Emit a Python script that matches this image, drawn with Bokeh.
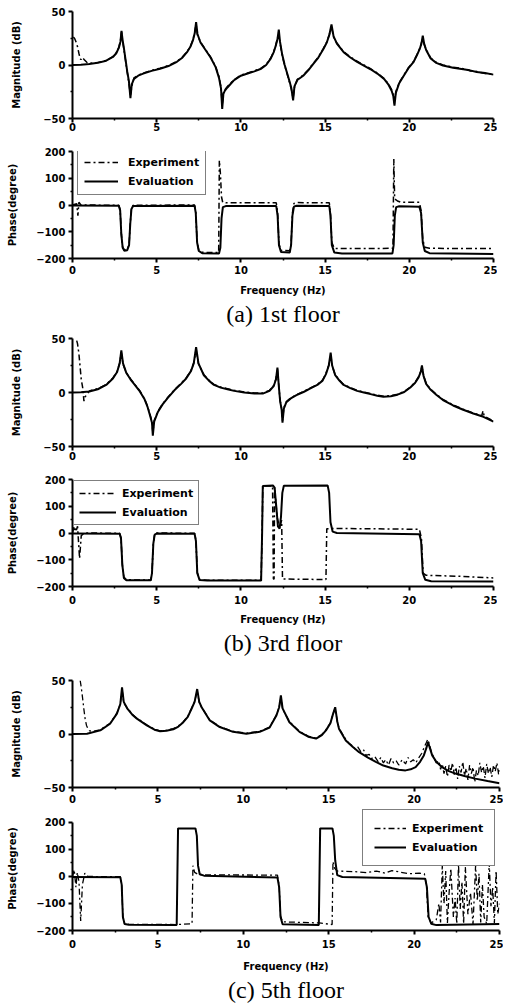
from bokeh.plotting import figure
from bokeh.layouts import column
from bokeh.models import Range1d, FixedTicker, Title, Legend, LegendItem
from bokeh.embed import file_html
from bokeh.resources import INLINE

# ---------------- data (frequency Hz, value) ----------------
freq_ticks = [0, 5, 10, 15, 20, 25]
freq_minor = [2.5, 7.5, 12.5, 17.5, 22.5]
mag_ticks = [-50, 0, 50]
mag_minor = [-25, 25]
phase_ticks = [-200, -100, 0, 100, 200]
phase_minor = [-150, -50, 50, 150]
series_labels = ["Experiment", "Evaluation"]
captions = ["(a) 1st floor", "(b) 3rd floor", "(c) 5th floor"]

a_mag_eval = [(0,0),(0.5,0.3),(1.0,1),(1.5,2),(2.0,4),(2.4,7.5),(2.6,11),(2.75,16),(2.85,22),(2.91,32),(2.97,24),(3.05,16),(3.15,5),(3.25,-6),(3.35,-15),(3.44,-31),(3.52,-18),(3.65,-13),(3.9,-10),(4.2,-8),(4.7,-5.5),(5.2,-3.5),(5.7,-1),(6.2,3),(6.5,6.5),(6.8,12),(7.0,17),(7.15,23),(7.26,30),(7.34,40),(7.42,29),(7.6,21),(7.9,14),(8.2,7),(8.5,-2),(8.7,-12),(8.82,-22),(8.89,-41),(8.96,-27),(9.05,-24),(9.2,-21),(9.57,-14.5),(10.0,-10),(10.4,-8),(10.8,-6),(11.2,-3.5),(11.5,0),(11.77,6),(11.95,12),(12.07,18),(12.17,24),(12.25,33),(12.32,22),(12.45,10),(12.6,0),(12.75,-8),(12.9,-16),(13.0,-22),(13.1,-33),(13.18,-20),(13.35,-14),(13.7,-10),(14.0,-5),(14.3,1),(14.6,7),(14.9,15),(15.1,21),(15.25,28),(15.38,38),(15.5,27),(15.7,20),(16.1,12),(16.5,7),(16.9,3),(17.3,-0.5),(17.7,-4),(18.1,-8),(18.5,-13),(18.75,-18),(18.95,-24),(19.05,-29),(19.12,-38),(19.2,-26),(19.4,-17),(19.67,-10),(19.95,-3),(20.26,3),(20.45,9),(20.62,15),(20.72,20),(20.8,27.5),(20.88,20),(21.0,14),(21.27,6),(21.6,2),(22.0,-0.5),(22.6,-2.5),(23.2,-4),(23.6,-5),(24.0,-6.5),(24.5,-7.5),(25.0,-9)]
a_mag_exp = [(0.05,26),(0.12,25),(0.2,22),(0.3,17),(0.38,11),(0.45,6),(0.5,5),(0.58,7),(0.7,5),(0.85,2.5),(1.0,1.5),(1.5,2.3),(2.0,4.2),(2.4,7.8),(2.6,11.5),(2.75,16.5),(2.85,23),(2.91,31),(2.97,23),(3.05,15),(3.15,4),(3.25,-7),(3.35,-17),(3.44,-29),(3.52,-20),(3.65,-12),(3.9,-9.5),(4.2,-7.5),(4.7,-5),(5.2,-3),(5.7,-0.5),(6.2,3.5),(6.5,7),(6.8,12.5),(7.0,17.5),(7.15,23.5),(7.26,31),(7.34,38),(7.42,28),(7.6,21.5),(7.9,14.5),(8.2,7.5),(8.5,-1.5),(8.7,-11),(8.82,-21),(8.89,-38),(8.96,-26),(9.05,-23),(9.2,-20),(9.57,-14),(10.0,-9.5),(10.4,-7.5),(10.8,-5.5),(11.2,-3),(11.5,0.5),(11.77,6.5),(11.95,12.5),(12.07,18.5),(12.17,25),(12.25,31),(12.32,21),(12.45,9),(12.6,-0.5),(12.75,-8.5),(12.9,-17),(13.0,-23),(13.1,-31),(13.18,-21),(13.35,-13.5),(13.7,-9.5),(14.0,-4.5),(14.3,1.5),(14.6,7.5),(14.9,15.5),(15.1,21.5),(15.25,28.5),(15.38,36),(15.5,26),(15.7,20.5),(16.1,12.5),(16.5,7.5),(16.9,3.5),(17.3,0),(17.7,-3.5),(18.1,-7.5),(18.5,-12.5),(18.75,-17.5),(18.95,-23),(19.05,-28),(19.12,-36),(19.2,-25),(19.4,-16.5),(19.67,-9.5),(19.95,-2.5),(20.26,3.5),(20.45,9.5),(20.62,15.5),(20.72,20.5),(20.8,26),(20.88,19.5),(21.0,14.5),(21.27,6.5),(21.6,2.5),(22.0,0),(22.6,-2),(23.2,-3.5),(23.6,-5.5),(24.0,-6),(24.5,-8),(25.0,-8.5)]
a_ph_eval = [(0,-2),(2.75,-3),(2.83,-20),(2.9,-110),(2.98,-160),(3.08,-171),(3.25,-169),(3.36,-150),(3.43,-70),(3.5,-15),(3.6,-4),(7.25,-3),(7.32,-30),(7.4,-140),(7.5,-172),(7.7,-180),(8.7,-181),(8.78,-160),(8.85,-50),(8.93,-8),(9.1,-4),(12.1,-4),(12.18,-40),(12.26,-150),(12.38,-176),(12.9,-178),(12.98,-150),(13.06,-40),(13.15,-6),(13.3,-3),(15.25,-4),(15.32,-40),(15.4,-150),(15.55,-178),(16.0,-181),(19.0,-181),(19.07,-150),(19.14,-40),(19.22,-8),(19.4,-5),(20.6,-7),(20.7,-30),(20.8,-140),(20.92,-172),(21.2,-180),(25.0,-183)]
a_ph_exp = [(0,0),(0.25,5),(0.32,-40),(0.38,10),(0.5,0),(2.75,-1),(2.83,-18),(2.9,-108),(2.98,-158),(3.08,-168),(3.25,-166),(3.36,-148),(3.43,-68),(3.5,-12),(3.6,-1),(7.25,0),(7.32,-28),(7.4,-138),(7.5,-170),(7.7,-177),(8.68,-178),(8.72,166),(8.78,120),(8.85,30),(8.92,10),(9.1,8),(12.1,8),(12.18,-30),(12.26,-145),(12.38,-170),(12.9,-171),(12.98,-145),(13.06,-30),(13.15,6),(13.3,9),(15.25,8),(15.32,-35),(15.4,-140),(15.55,-162),(16.0,-163),(19.03,-162),(19.08,172),(19.13,23),(19.3,15),(19.5,10),(20.6,10),(20.7,-20),(20.8,-130),(20.92,-158),(21.2,-162),(25.0,-163)]

b_mag_eval = [(0,0),(0.5,0.3),(1.0,1),(1.5,3),(2.0,7),(2.4,13),(2.65,19),(2.8,27),(2.9,39),(3.0,27),(3.2,18),(3.45,12),(3.7,7),(4.0,1),(4.27,-6),(4.45,-13),(4.6,-21),(4.72,-28),(4.77,-40),(4.85,-27),(5.07,-18),(5.35,-11),(5.66,-5),(6.05,2),(6.45,8),(6.75,13),(7.04,20),(7.2,27),(7.34,42),(7.48,27),(7.8,16),(8.1,11),(8.4,7),(8.8,4.5),(9.2,3),(9.6,1.5),(10.2,0),(10.8,-1),(11.3,-1),(11.7,1.5),(11.95,6),(12.08,12),(12.17,23),(12.25,6),(12.33,-8),(12.42,-16),(12.47,-28),(12.55,-15),(12.7,-9),(12.96,-5.5),(13.3,-2.5),(13.75,0.7),(14.1,3.5),(14.54,7),(14.85,11),(15.05,17),(15.22,25),(15.33,37),(15.42,25),(15.6,16),(15.85,11),(16.1,7),(16.5,4),(16.9,1.5),(17.3,0),(17.7,-1.5),(18.1,-3),(18.46,-4),(18.9,-3.5),(19.3,-2),(19.7,0.5),(20.06,4.6),(20.35,9),(20.55,14),(20.68,19),(20.75,25),(20.85,15),(21.0,8),(21.24,3),(21.6,-2),(22.0,-7),(22.6,-12),(23.2,-16),(23.8,-19.5),(24.4,-22.5),(25.0,-27)]
b_mag_exp = [(0.25,48),(0.3,45),(0.38,36),(0.45,24),(0.52,12),(0.6,5),(0.68,-8),(0.75,-4),(0.9,-1),(1.0,1.5),(1.5,3.5),(2.0,7.5),(2.4,13.5),(2.65,19.5),(2.8,27),(2.9,37),(3.0,26),(3.2,18.5),(3.45,12.5),(3.7,7.5),(4.0,1.5),(4.27,-5.5),(4.45,-12.5),(4.6,-20),(4.72,-27),(4.77,-37),(4.85,-26),(5.07,-17.5),(5.35,-10.5),(5.66,-4.5),(6.05,2.5),(6.45,8.5),(6.75,13.5),(7.04,20.5),(7.2,27.5),(7.34,40),(7.48,26.5),(7.8,16.5),(8.1,11.5),(8.4,7.5),(8.8,5),(9.2,3.5),(9.6,2),(10.2,0.5),(10.8,-0.5),(11.3,-0.5),(11.7,2),(11.95,6.5),(12.08,12.5),(12.17,22),(12.25,6.5),(12.33,-7.5),(12.42,-15),(12.47,-26),(12.55,-14),(12.7,-8.5),(12.96,-5),(13.3,-2),(13.75,1.2),(14.1,4),(14.54,7.5),(14.85,11.5),(15.05,17.5),(15.22,25.5),(15.33,35),(15.42,24.5),(15.6,16.5),(15.85,11.5),(16.1,7.5),(16.5,4.5),(16.9,2),(17.3,0.5),(17.7,-1),(18.1,-2.5),(18.46,-3.5),(18.9,-3),(19.3,-1.5),(19.7,1),(20.06,5),(20.35,9.5),(20.55,14.5),(20.68,19.5),(20.75,24),(20.85,15.5),(21.0,8.5),(21.24,3.5),(21.6,-1.5),(22.0,-6.5),(22.6,-11.5),(23.2,-15.5),(23.8,-19),(24.3,-21.5),(24.38,-17),(24.45,-22),(25.0,-26.5)]
b_ph_eval = [(0,-2),(2.8,-3),(2.88,-20),(2.96,-120),(3.05,-168),(3.2,-177),(4.65,-177),(4.72,-150),(4.8,-40),(4.88,-6),(5.0,-2),(7.25,-3),(7.33,-30),(7.41,-150),(7.55,-176),(8.0,-178),(11.2,-178),(11.26,0),(11.3,176),(11.9,178),(12.0,170),(12.1,100),(12.2,25),(12.3,16),(12.38,60),(12.46,150),(12.55,177),(15.15,178),(15.24,150),(15.32,40),(15.45,5),(15.7,0),(20.6,-5),(20.7,-30),(20.8,-150),(20.95,-175),(21.3,-180),(25.0,-181)]
b_ph_exp = [(0,0),(0.1,25),(0.2,5),(0.3,25),(0.42,-95),(0.52,-10),(0.7,0),(2.8,-1),(2.88,-18),(2.96,-118),(3.05,-165),(3.2,-175),(4.65,-176),(4.72,-148),(4.8,-38),(4.88,-4),(5.0,0),(7.25,-1),(7.33,-28),(7.41,-148),(7.55,-174),(8.0,-177),(11.2,-177),(11.26,0),(11.3,175),(11.88,176),(11.93,-172),(11.97,-172),(12.0,172),(12.15,60),(12.3,18),(12.42,48),(12.47,-172),(15.05,-174),(15.1,16),(15.5,17),(20.6,14),(20.72,-20),(20.82,-150),(21.0,-158),(22.0,-160),(23.0,-162),(24.0,-165),(25.0,-168)]

c_mag_eval = [(0,0),(0.85,0.3),(1.63,3.4),(2.2,9.6),(2.6,19),(2.8,28),(2.9,43.5),(3.0,30),(3.2,24),(3.5,18),(3.77,14.3),(4.35,8),(4.8,4),(5.13,2.5),(5.5,3),(5.9,4.4),(6.2,7),(6.49,11),(6.75,16),(6.97,23.6),(7.15,30),(7.3,42),(7.42,30),(7.56,25),(8.04,12.7),(8.62,6.5),(9.4,2),(10.18,0.3),(10.96,2),(11.54,6),(11.93,17),(12.1,25),(12.2,36),(12.3,24),(12.7,11),(13.29,2),(13.8,-2.5),(14.26,-4.3),(14.6,-1),(14.84,3.4),(15.1,10),(15.23,17.4),(15.38,25),(15.5,12),(15.6,5),(16.0,-6),(16.4,-12),(16.78,-17),(17.3,-22),(17.76,-26),(18.2,-29.5),(18.72,-32),(19.1,-33.5),(19.5,-34),(19.8,-33),(20.09,-31),(20.35,-26),(20.57,-20),(20.72,-13),(20.82,-7.5),(20.92,-13),(21.06,-20),(21.3,-26),(21.64,-31),(22.0,-34.5),(22.42,-37),(23.0,-39.5),(23.58,-41.7),(24.3,-44),(25.0,-46)]
c_mag_exp = [(0.45,50),(0.5,45),(0.58,35),(0.66,24),(0.74,14),(0.82,8),(0.9,5),(1.0,3),(1.2,2.5),(1.63,4),(2.2,10),(2.6,19.5),(2.8,28),(2.9,42),(3.0,29),(3.2,24.5),(3.5,18.5),(3.77,14.8),(4.35,8.5),(4.8,4.5),(5.13,3),(5.5,3.5),(5.9,5),(6.2,7.5),(6.49,11.5),(6.75,16.5),(6.97,24),(7.15,30.5),(7.3,40),(7.42,29.5),(7.56,25),(8.04,13),(8.62,7),(9.4,2.5),(10.18,0.8),(10.96,2.5),(11.54,6.5),(11.93,17.5),(12.1,25),(12.2,34),(12.3,23.5),(12.7,11.5),(13.29,2.5),(13.8,-2),(14.26,-3.8),(14.6,-0.5),(14.84,4),(15.1,10.5),(15.23,18),(15.38,24),(15.5,12),(15.6,5.5),(16.0,-5),(16.2,-9),(16.4,-11),(16.55,-14),(16.7,-12),(16.9,-17),(17.05,-15),(17.2,-20),(17.37,-19),(17.5,-23),(17.7,-21),(17.9,-26),(18.05,-22),(18.2,-27),(18.34,-24),(18.5,-29),(18.65,-23),(18.8,-27),(18.95,-25),(19.1,-29),(19.3,-24),(19.5,-28),(19.65,-22),(19.8,-26),(19.95,-24),(20.1,-27),(20.28,-22),(20.45,-18),(20.6,-12),(20.72,-8),(20.8,-5),(20.9,-10),(21.0,-16),(21.15,-22),(21.3,-27),(21.45,-25),(21.55,-33),(21.65,-28),(21.75,-37),(21.85,-30),(21.95,-40),(22.05,-29),(22.15,-35),(22.25,-27),(22.35,-38),(22.45,-31),(22.55,-42),(22.65,-30),(22.75,-36),(22.85,-26),(22.95,-39),(23.05,-32),(23.15,-43),(23.25,-29),(23.35,-37),(23.45,-31),(23.55,-45),(23.65,-34),(23.75,-39),(23.85,-27),(23.95,-36),(24.05,-30),(24.15,-41),(24.25,-28),(24.35,-37),(24.45,-31),(24.55,-40),(24.65,-29),(24.75,-35),(24.85,-27),(24.95,-38),(25.0,-33)]
c_ph_eval = [(0,-2),(2.8,-3),(2.88,-30),(2.95,-150),(3.05,-176),(3.3,-179),(6.1,-180),(6.14,0),(6.18,178),(7.2,178),(7.28,150),(7.35,40),(7.45,8),(7.7,3),(12.0,-4),(12.1,-40),(12.18,-150),(12.3,-177),(14.42,-180),(14.46,0),(14.5,178),(15.22,178),(15.3,150),(15.38,60),(15.5,5),(15.8,-2),(20.65,-8),(20.75,-40),(20.85,-150),(21.0,-175),(21.3,-180),(25.0,-176)]
c_ph_exp = [(0,0),(0.1,25),(0.2,-40),(0.28,15),(0.38,-20),(0.48,-165),(0.58,-30),(0.72,12),(0.9,0),(2.8,-1),(2.88,-28),(2.95,-148),(3.05,-174),(3.3,-177),(6.1,-178),(7.0,-175),(7.05,40),(7.15,15),(7.35,8),(7.7,6),(12.0,5),(12.1,-35),(12.18,-145),(12.3,-168),(14.45,-172),(15.2,-178),(15.25,55),(15.35,30),(15.5,20),(16.5,18),(17.2,14),(17.8,20),(18.3,12),(18.7,22),(19.2,16),(19.7,10),(20.3,12),(20.6,10),(20.72,-30),(20.82,-150),(21.0,-172),(21.3,-160),(21.45,-100),(21.55,-170),(21.65,40),(21.75,-100),(21.85,20),(21.95,-172),(22.05,-60),(22.15,30),(22.3,-150),(22.4,-80),(22.5,-175),(22.6,45),(22.7,-120),(22.8,-20),(22.9,-175),(23.0,35),(23.15,-140),(23.3,-60),(23.45,-176),(23.6,40),(23.7,-90),(23.8,10),(23.9,-170),(24.0,-30),(24.1,-150),(24.25,-175),(24.4,50),(24.5,-110),(24.6,-40),(24.7,-172),(24.8,20),(24.9,-140),(25.0,-100)]

# ---------------- styling helpers ----------------
FONT = "DejaVu Sans"
DASH = "6 3 2 3"


def make_panel(width, height, top, bottom, right, yr, ybounds, yticks, yminor, ylabel,
               ylab_so, xtick_so, xlabel=None, xlab_so=8, caption=None, cap_so=0):
    p = figure(width=width, height=height, x_range=Range1d(0, 25), y_range=Range1d(*yr),
               toolbar_location=None, output_backend="svg", title=None,
               min_border_left=72, min_border_right=right,
               min_border_top=top, min_border_bottom=bottom)
    p.outline_line_color = None
    p.xgrid.visible = False
    p.ygrid.visible = False
    p.background_fill_color = "white"
    p.border_fill_color = "white"
    p.xaxis.ticker = FixedTicker(ticks=freq_ticks, minor_ticks=freq_minor)
    p.yaxis.ticker = FixedTicker(ticks=yticks, minor_ticks=yminor)
    p.yaxis.bounds = ybounds
    for ax in p.axis:
        ax.axis_line_width = 2
        ax.axis_line_color = "black"
        ax.major_tick_line_width = 2
        ax.major_tick_in = 0
        ax.major_tick_out = 4
        ax.minor_tick_in = 0
        ax.minor_tick_out = 2
        ax.minor_tick_line_width = 1.5
        ax.major_label_text_font = FONT
        ax.major_label_text_font_style = "bold"
        ax.major_label_text_font_size = "10px"
        ax.major_label_text_color = "black"
        ax.axis_label_text_font = FONT
        ax.axis_label_text_font_style = "bold"
        ax.axis_label_text_font_size = "10px"
        ax.axis_label_text_color = "black"
    p.yaxis.axis_label = ylabel
    p.yaxis.axis_label_standoff = ylab_so
    p.yaxis.major_label_standoff = 3
    p.xaxis.major_label_standoff = xtick_so
    if xlabel:
        p.xaxis.axis_label = xlabel
        p.xaxis.axis_label_standoff = xlab_so
    if caption:
        p.add_layout(Title(text=caption, align="center", text_font="Liberation Serif",
                           text_font_size="24px", text_font_style="normal",
                           text_color="black", standoff=cap_so), "below")
    return p


def add_lines(p, exp, ev, width_exp=1.5, width_eval=2.0):
    r_exp = p.line([f for f, _ in exp], [v for _, v in exp], line_color="black",
                   line_width=width_exp, line_dash=DASH)
    r_ev = p.line([f for f, _ in ev], [v for _, v in ev], line_color="black",
                  line_width=width_eval)
    return r_exp, r_ev


def add_legend(p, r_exp, r_ev, loc, padding, glyph_width, standoff):
    lg = Legend(items=[LegendItem(label=series_labels[0], renderers=[r_exp]),
                       LegendItem(label=series_labels[1], renderers=[r_ev])],
                location=loc, padding=padding, spacing=5, margin=0,
                glyph_width=glyph_width, glyph_height=14, label_height=14,
                label_standoff=standoff, label_text_font=FONT,
                label_text_font_style="bold", label_text_font_size="11px",
                label_text_color="black",
                border_line_color="black", border_line_width=1.5,
                background_fill_color="white", background_fill_alpha=1.0)
    p.add_layout(lg, "center")


# (a) 1st floor
f1 = make_panel(497, 135, 11, 17, 4, (-50, 50), (-50, 50), mag_ticks, mag_minor,
                "Magnitude (dB)", 18, 0)
add_lines(f1, a_mag_exp, a_mag_eval)
f2 = make_panel(497, 196, 16, 73, 4, (-200, 200), (-200, 200), phase_ticks, phase_minor,
                "Phase(degree)", 15, 3, xlabel="Frequency (Hz)", xlab_so=8,
                caption=captions[0], cap_so=0)
re, rv = add_lines(f2, a_ph_exp, a_ph_eval)
add_legend(f2, re, rv, (5, 63), 6, 34, 10)

# (b) 3rd floor
f3 = make_panel(497, 139, 7, 24, 4, (-50, 50), (-50, 50), mag_ticks, mag_minor,
                "Magnitude (dB)", 18, 1)
add_lines(f3, b_mag_exp, b_mag_eval)
f4 = make_panel(497, 190, 9, 74, 4, (-200, 200), (-200, 200), phase_ticks, phase_minor,
                "Phase(degree)", 15, 5, xlabel="Frequency (Hz)", xlab_so=7,
                caption=captions[1], cap_so=0)
re, rv = add_lines(f4, b_ph_exp, b_ph_eval)
add_legend(f4, re, rv, (1, 61), 5, 37, 6)

# (c) 5th floor
f5 = make_panel(503, 146, 20, 19, 2, (-50, 50), (-50, 50), mag_ticks, mag_minor,
                "Magnitude (dB)", 18, 3)
add_lines(f5, c_mag_exp, c_mag_eval, width_exp=1.3)
f6 = make_panel(503, 197, 0, 73, 2, (-200, 259), (-200, 200), phase_ticks, phase_minor,
                "Phase(degree)", 15, 5, xlabel="Frequency (Hz)", xlab_so=10,
                caption=captions[2], cap_so=1)
re, rv = add_lines(f6, c_ph_exp, c_ph_eval, width_exp=1.3)
add_legend(f6, re, rv, (290, 64), 11, 32, 6)

layout = column(f1, f2, f3, f4, f5, f6)
open("out.html", "w").write(file_html(layout, INLINE))
